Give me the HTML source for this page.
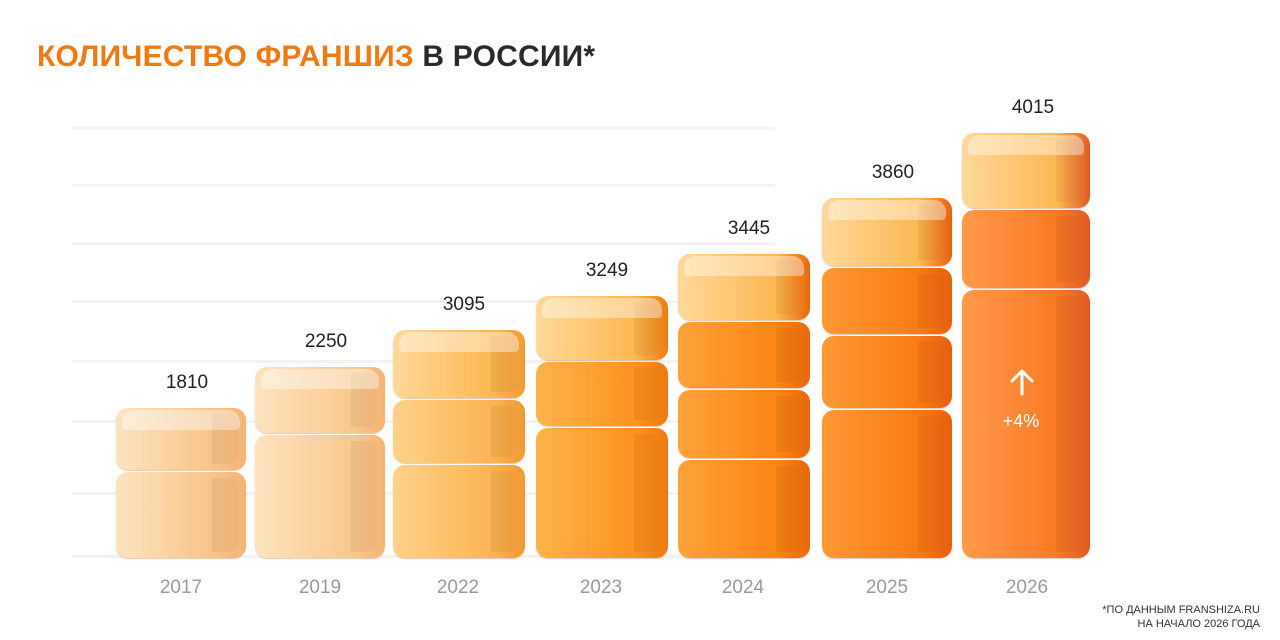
<!DOCTYPE html>
<html><head><meta charset="utf-8">
<style>
body{margin:0;width:1280px;height:640px;background:#fff;position:relative;overflow:hidden;font-family:"Liberation Sans","DejaVu Sans",sans-serif}
.t{position:absolute;left:37px;top:40px;font-size:30px;font-weight:bold;color:#f07a12;white-space:nowrap;letter-spacing:0.2px}
.t span{color:#2a2a2a}
.g{position:absolute;left:72px;width:703px;height:3px;background:#f3f3f3}
.seg{position:absolute;border-radius:12px;box-sizing:border-box}
.face{position:absolute;top:6px;bottom:6px;right:8px;width:26px;border-radius:0 8px 8px 0}
.cap{position:absolute;left:6px;right:6px;top:2px;height:20px;border-radius:12px 12px 4px 4px}
.v{position:absolute;font-size:19px;color:#222;text-align:center;width:130px}
.y{position:absolute;font-size:19px;color:#999;text-align:center;width:130px;top:577px}
.n{position:absolute;right:20px;top:603px;font-size:11px;color:#333;text-align:right;line-height:14px}
</style></head><body>
<div class="t">КОЛИЧЕСТВО ФРАНШИЗ <span>В РОССИИ*</span></div>
<div class="g" style="top:127px"></div><div class="g" style="top:184px"></div><div class="g" style="top:242px"></div><div class="g" style="top:300px"></div><div class="g" style="top:360px"></div><div class="g" style="top:420px"></div><div class="g" style="top:492px"></div><div class="g" style="top:555px"></div>
<div id="c"></div>
<div class="n">*ПО ДАННЫМ FRANSHIZA.RU<br>НА НАЧАЛО 2026 ГОДА</div>
<script>
var bars=[
[116,130,[408,472,560],'1810','2017','#fde3bf','#f7c48a','#f3b474'],
[255,130,[367,435,560],'2250','2019','#fde3bf','#f8c88e','#f3b474'],
[393,132,[330,400,465,560],'3095','2022','#fed28a','#fbb452','#f09a35'],
[536,132,[296,362,428,560],'3249','2023','#fdb34a','#fb9320','#ee7a10'],
[678,132,[254,322,390,460,560],'3445','2024','#fda23a','#fb8514','#e8680c'],
[822,130,[198,268,336,410,560],'3860','2025','#fd9a35','#fa7a14','#e5600f'],
[962,128,[133,210,290,560],'4015','2026','#fe9a4a','#fa7a25','#e05a25']];
var h='';
bars.forEach(function(b){
 var x=b[0],w=b[1],s=b[2];
 for(var i=0;i<s.length-1;i++){
  var top=s[i],bot=s[i+1];
  var c1=b[5],c2=b[6],c3=b[7];
  if(i==0&&b[4]!='2017'&&b[4]!='2019'){c1='#fed89a';c2='#fdb850';}
  h+='<div class="seg" style="left:'+x+'px;top:'+top+'px;width:'+w+'px;height:'+(bot-top-2)+'px;background:linear-gradient(90deg,'+c1+','+c2+' 75%,'+c3+');box-shadow:0 1px 1px rgba(180,90,20,.35)">';
  h+='<div class="face" style="background:linear-gradient(90deg,rgba(0,0,0,.06),rgba(0,0,0,.02))"></div>';
  if(i==0)h+='<div class="cap" style="background:rgba(255,255,255,.4)"></div>';
  h+='</div>';
 }
 h+='<div class="v" style="left:'+(x+6)+'px;top:'+(s[0]-36)+'px">'+b[3]+'</div>';
 h+='<div class="y" style="left:'+x+'px">'+b[4]+'</div>';
});
h+='<svg style="position:absolute;left:1008px;top:368px" width="28" height="28" viewBox="0 0 28 28"><path d="M14 26V3M4 13L14 3L24 13" stroke="#fff" stroke-width="3" fill="none" stroke-linecap="round" stroke-linejoin="round"/></svg>';
h+='<div style="position:absolute;left:989px;top:411px;width:64px;text-align:center;color:#fff;font-size:18px">+4%</div>';
document.getElementById('c').innerHTML=h;
</script>
</body></html>
